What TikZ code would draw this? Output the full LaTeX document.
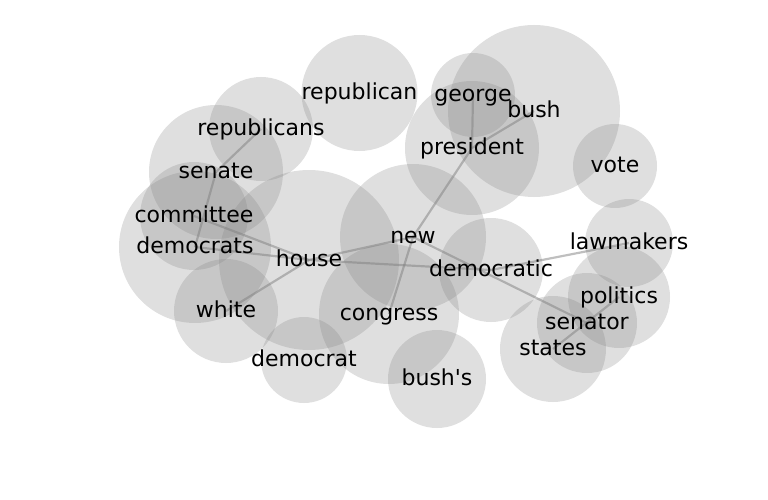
\documentclass[tikz,border=0pt]{standalone}
\usepackage{fontspec}
\setmainfont{DejaVu Sans}[Ligatures=TeXOff]
\begin{document}
\begin{tikzpicture}[x=1pt,y=-1pt,
  bubble/.style={fill=gray,fill opacity=0.25,draw=none},
  link/.style={draw=gray,draw opacity=0.5,line width=2.2pt},
  word/.style={inner sep=0pt,text height=16.7pt,text depth=4.6pt,font=\fontsize{22}{26}\selectfont,text=black}]
\useasboundingbox (0,0) rectangle (768,500);
% coordinates
\coordinate (republican) at (359.5,93);
\coordinate (republicans) at (261,129);
\coordinate (senate) at (216,172);
\coordinate (committee) at (194,216);
\coordinate (democrats) at (195,247);
\coordinate (house) at (309,260);
\coordinate (white) at (226,311);
\coordinate (democrat) at (304,360);
\coordinate (congress) at (389,314);
\coordinate (new) at (413,237);
\coordinate (bushs) at (437,379);
\coordinate (democratic) at (491,270);
\coordinate (president) at (472,148);
\coordinate (george) at (473,95);
\coordinate (bush) at (534,111);
\coordinate (vote) at (615,166);
\coordinate (lawmakers) at (629,243);
\coordinate (politics) at (619,297);
\coordinate (senator) at (587,323);
\coordinate (states) at (553,349);
% bubbles
\fill[bubble] (republican) circle (58);
\fill[bubble] (republicans) circle (52);
\fill[bubble] (senate) circle (67);
\fill[bubble] (committee) circle (54);
\fill[bubble] (democrats) circle (76);
\fill[bubble] (house) circle (90);
\fill[bubble] (white) circle (52);
\fill[bubble] (democrat) circle (43);
\fill[bubble] (congress) circle (70);
\fill[bubble] (new) circle (73);
\fill[bubble] (bushs) circle (49);
\fill[bubble] (democratic) circle (52);
\fill[bubble] (president) circle (67);
\fill[bubble] (george) circle (42);
\fill[bubble] (bush) circle (86);
\fill[bubble] (vote) circle (42);
\fill[bubble] (lawmakers) circle (44);
\fill[bubble] (politics) circle (51);
\fill[bubble] (senator) circle (50);
\fill[bubble] (states) circle (53);
% links
\draw[link] (republicans) -- (senate);
\draw[link] (senate) -- (democrats);
\draw[link] (committee) -- (house);
\draw[link] (democrats) -- (house);
\draw[link] (white) -- (house);
\draw[link] (house) -- (new);
\draw[link] (house) -- (democratic);
\draw[link] (new) -- (congress);
\draw[link] (new) -- (president);
\draw[link] (new) -- (senator);
\draw[link] (president) -- (george);
\draw[link] (president) -- (bush);
\draw[link] (democratic) -- (lawmakers);
\draw[link] (politics) -- (states);
% words
\node[word] (t1) at (republican) {republican};
\node[word] (t2) at (republicans) {republicans};
\node[word] (t3) at (senate) {senate};
\node[word] (t4) at (committee) {committee};
\node[word] (t5) at (democrats) {democrats};
\node[word] (t6) at (house) {house};
\node[word] (t7) at (white) {white};
\node[word] (t8) at (democrat) {democrat};
\node[word] (t9) at (congress) {congress};
\node[word] (t10) at (new) {new};
\node[word] (t11) at (bushs) {bush's};
\node[word] (t12) at (democratic) {democratic};
\node[word] (t13) at (president) {president};
\node[word] (t14) at (george) {george};
\node[word] (t15) at (bush) {bush};
\node[word] (t16) at (vote) {vote};
\node[word] (t17) at (lawmakers) {lawmakers};
\node[word] (t18) at (politics) {politics};
\node[word] (t19) at (senator) {senator};
\node[word] (t20) at (states) {states};
\end{tikzpicture}
\end{document}
